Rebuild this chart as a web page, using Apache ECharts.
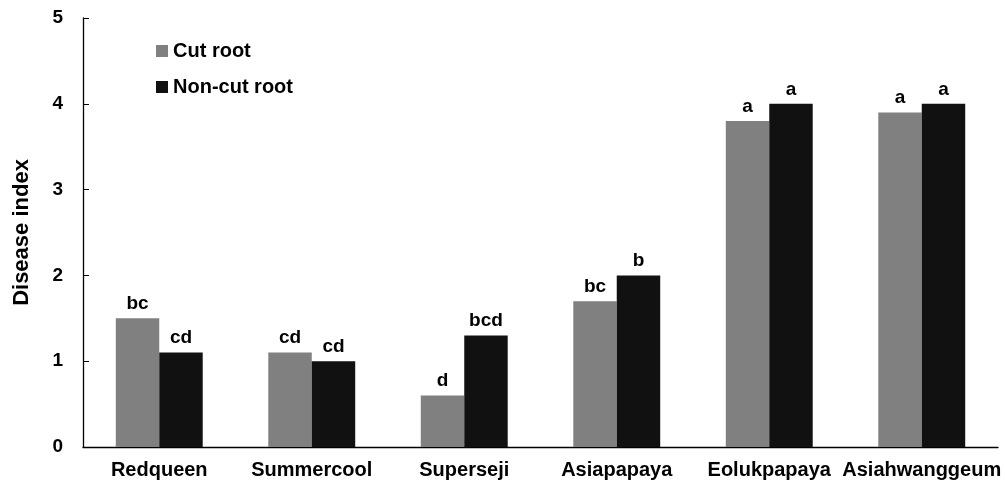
<!DOCTYPE html>
<html><head><meta charset="utf-8">
<script src="https://cdn.jsdelivr.net/npm/echarts@6/dist/echarts.min.js"></script>
<style>html,body{margin:0;padding:0;background:#fff}#c{width:1005px;height:484px}</style>
</head><body><div id="c"></div>
<script>
var categories = ['Redqueen','Summercool','Superseji','Asiapapaya','Eolukpapaya','Asiahwanggeum'];
var cutRoot = [1.5, 1.1, 0.6, 1.7, 3.8, 3.9];
var nonCutRoot = [1.1, 1.0, 1.3, 2.0, 4.0, 4.0];
var cutLetters = ['bc','cd','d','bc','a','a'];
var nonCutLetters = ['cd','cd','bcd','b','a','a'];
var yTicks = [0,1,2,3,4,5];

var font = 'Liberation Sans, Arial, sans-serif';
var chart = echarts.init(document.getElementById('c'));
function lab(letters){
  return {show:true, position:'top', distance:5, fontFamily:font, fontWeight:'bold', fontSize:19, color:'#000',
    formatter:function(p){return letters[p.dataIndex];}};
}
chart.setOption({
  animation:false,
  grid:{left:83, right:7, top:18, bottom:37, containLabel:false, outerBoundsMode:'none'},
  legend:{orient:'vertical', left:151, top:36, itemWidth:12, itemHeight:12, itemGap:16,
    icon:'rect',
    textStyle:{fontFamily:font, fontWeight:'bold', fontSize:20, color:'#000'},
    data:['Cut root','Non-cut root']},
  xAxis:{type:'category', data:categories,
    axisLine:{lineStyle:{color:'#000', width:1.3}},
    axisTick:{inside:true, length:6, lineStyle:{color:'#000'}},
    axisLabel:{fontFamily:font, fontWeight:'bold', fontSize:20, color:'#000', margin:13, interval:0}},
  yAxis:{type:'value', min:0, max:5, interval:1,
    name:'Disease index', nameLocation:'middle', nameGap:50, nameRotate:90,
    nameTextStyle:{fontFamily:font, fontWeight:'bold', fontSize:22, color:'#000'},
    axisLine:{show:true, lineStyle:{color:'#000', width:1.3}},
    axisTick:{show:true, inside:true, length:6, lineStyle:{color:'#000'}},
    axisLabel:{fontFamily:font, fontWeight:'bold', fontSize:19, color:'#000', margin:20,
      formatter:function(v){return yTicks.indexOf(v)>=0? String(v):'';}},
    splitLine:{show:false}},
  series:[
    {name:'Cut root', type:'bar', data:cutRoot, barGap:'0%', barCategoryGap:'43%',
      itemStyle:{color:'#808080'}, label:lab(cutLetters)},
    {name:'Non-cut root', type:'bar', data:nonCutRoot,
      itemStyle:{color:'#111111'}, label:lab(nonCutLetters)}
  ]
});
</script></body></html>
